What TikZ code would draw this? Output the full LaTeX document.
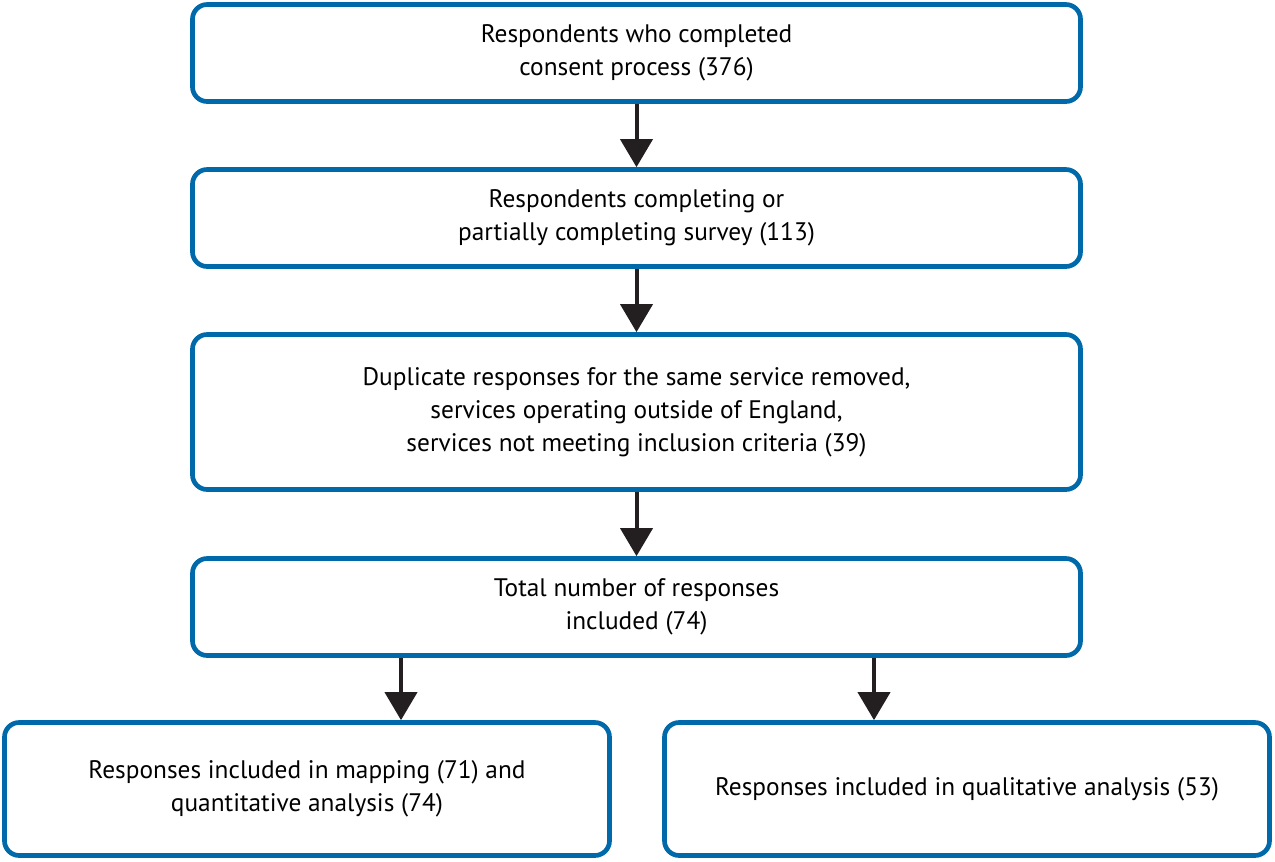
\documentclass[tikz,border=0pt]{standalone}
\usepackage{fontspec}
\setmainfont{PT Sans}
\usetikzlibrary{arrows.meta}
\definecolor{boxblue}{RGB}{0,105,170}
\definecolor{arrowblack}{RGB}{35,31,32}
\tikzset{
  flowbox/.style={draw=boxblue, line width=3.5pt, rounded corners=11pt, fill=white,
    minimum width=666pt, minimum height=72.75pt, align=center, inner sep=0pt,
    font=\fontsize{19pt}{24.75pt}\selectfont},
  flowarrow/.style={draw=arrowblack, line width=3pt,
    -{Triangle[width=24pt,length=21pt]}}
}
\begin{document}
\begin{tikzpicture}[x=0.75pt,y=0.75pt,yscale=-1,xscale=1]
\useasboundingbox (0,0) rectangle (1275,861);
% Boxes
\node[flowbox] (consent) at (636.5,53) {Respondents who completed\\consent process (376)};
\node[flowbox] (survey) at (636.5,218) {Respondents completing or\\partially completing survey (113)};
\node[flowbox, minimum height=116.25pt] (removed) at (636.5,412) {Duplicate responses for the same service removed,\\services operating outside of England,\\services not meeting inclusion criteria (39)};
\node[flowbox] (total) at (636.5,607) {Total number of responses\\included (74)};
\node[flowbox, minimum width=453.75pt, minimum height=99.75pt] (mapping) at (307,789) {Responses included in mapping (71) and\\quantitative analysis (74)};
\node[flowbox, minimum width=453.75pt, minimum height=99.75pt] (qualitative) at (967,789) {Responses included in qualitative analysis (53)};
% Arrows
\coordinate (split left) at (401,658);
\coordinate (split right) at (874,658);
\draw[flowarrow] (consent) -- (survey);
\draw[flowarrow] (survey) -- (removed);
\draw[flowarrow] (removed) -- (total);
\draw[flowarrow] (total.south -| split left) -- (mapping.north -| split left);
\draw[flowarrow] (total.south -| split right) -- (qualitative.north -| split right);
\end{tikzpicture}
\end{document}
